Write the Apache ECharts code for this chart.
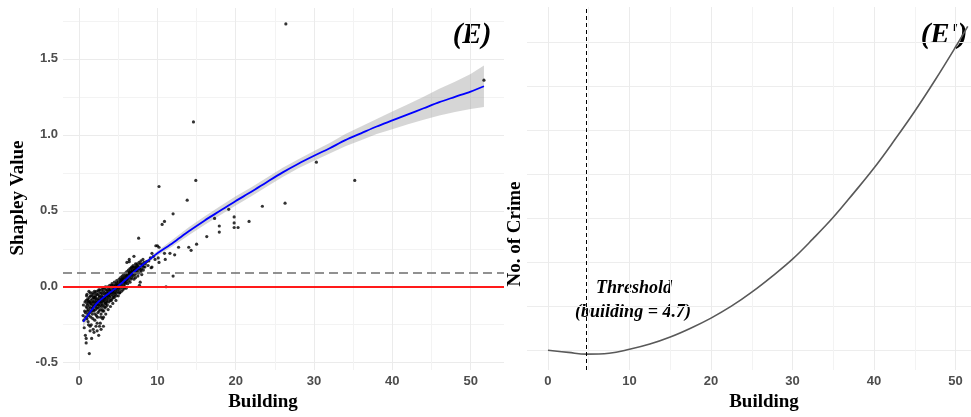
<!DOCTYPE html>
<html>
<head>
<meta charset="utf-8">
<script src="https://cdn.jsdelivr.net/npm/echarts@6/dist/echarts.min.js"></script>
<style>
  html, body { margin: 0; padding: 0; background: #fff; }
  #chart { width: 971px; height: 417px; }
</style>
</head>
<body>
<div id="chart"></div>
<script>
// Panel (E): Shapley value of the building variable, one point per observation [building, shapley]
const pointsE = [
  [0.5,-0.19],[0.6,-0.22],[0.7,-0.16],[0.8,-0.17],[0.8,-0.32],[0.9,-0.09],[0.9,-0.34],[0.9,-0.13],
  [1.0,-0.05],[1.0,-0.11],[1.0,-0.14],[1.0,-0.21],[1.1,-0.08],[1.1,-0.12],[1.1,-0.18],[1.2,-0.25],
  [1.2,-0.10],[1.2,-0.15],[1.3,-0.44],[1.3,-0.07],[1.3,-0.13],[1.4,-0.29],[1.4,-0.26],[1.4,-0.04],
  [1.4,-0.11],[1.5,-0.16],[1.5,-0.09],[1.5,-0.20],[0.9,-0.37],
  [1.6,-0.34],[1.6,-0.06],[1.6,-0.12],[1.7,-0.14],[1.7,-0.08],[1.7,-0.18],[1.8,-0.28],[1.8,-0.05],
  [1.8,-0.10],[1.8,-0.13],[1.9,-0.30],[1.9,-0.07],[1.9,-0.16],[2.0,-0.04],[2.0,-0.09],[2.0,-0.11],
  [2.0,-0.22],[2.1,-0.06],[2.1,-0.13],[2.1,-0.15],[2.2,-0.03],[2.2,-0.08],[2.2,-0.19],[2.3,-0.29],
  [2.3,-0.24],[2.3,-0.10],[2.3,-0.12],[2.4,-0.05],[2.4,-0.14],[2.4,-0.17],[2.5,-0.32],[2.5,-0.02],
  [2.5,-0.09],[2.5,-0.11],
  [2.6,-0.26],[2.6,-0.07],[2.6,-0.13],[2.7,-0.24],[2.7,-0.04],[2.7,-0.10],[2.7,-0.15],[2.8,-0.28],
  [2.8,-0.18],[2.8,-0.06],[2.8,-0.08],[2.9,-0.02],[2.9,-0.11],[2.9,-0.13],[3.0,-0.05],[3.0,-0.09],
  [3.0,-0.16],[3.0,-0.21],[3.1,-0.26],[3.1,-0.20],[3.1,-0.03],[3.1,-0.07],[3.2,-0.13],[3.2,-0.01],
  [3.2,-0.10],[3.3,-0.05],[3.3,-0.08],[3.3,-0.14],[3.4,-0.02],[3.4,-0.11],[3.4,-0.18],[3.5,-0.04],
  [3.5,-0.07],[3.5,-0.09],
  [3.6,0.00],[3.6,-0.06],[3.6,-0.12],[3.7,-0.03],[3.7,-0.08],[3.7,-0.15],[3.8,-0.01],[3.8,-0.05],
  [3.8,-0.10],[3.9,0.01],[3.9,-0.04],[3.9,-0.07],[4.0,-0.02],[4.0,-0.06],[4.0,-0.13],[4.1,0.00],
  [4.1,-0.03],[4.1,-0.09],[4.2,0.02],[4.2,-0.05],[4.2,-0.08],[4.3,-0.01],[4.3,-0.04],[4.3,-0.11],
  [4.4,0.01],[4.4,-0.02],[4.4,-0.06],[4.5,0.03],[4.5,-0.03],[4.5,-0.07],
  [4.6,0.00],[4.6,-0.05],[4.7,0.02],[4.7,-0.02],[4.7,-0.09],[4.8,0.04],[4.8,-0.01],[4.8,-0.04],
  [4.9,0.01],[4.9,-0.03],[5.0,0.03],[5.0,0.00],[5.0,-0.06],[5.1,0.05],[5.1,-0.02],[5.2,0.02],
  [5.2,-0.04],[5.3,0.06],[5.3,0.01],[5.3,-0.01],[5.4,0.04],[5.4,-0.03],[5.5,0.07],[5.5,0.02],[5.5,0.00],
  [5.6,0.05],[5.6,-0.02],[5.7,0.08],[5.7,0.03],[5.7,0.01],[5.8,0.06],[5.8,0.00],[5.9,0.09],
  [5.9,0.04],[5.9,0.02],[6.0,0.07],[6.0,0.03],[6.0,-0.01],[6.1,0.16],[6.1,0.05],[6.1,0.10],
  [6.2,0.08],[6.2,0.02],[6.3,0.11],[6.3,0.06],[6.3,0.04],[6.4,0.18],[6.4,0.165],[6.4,0.09],
  [6.5,0.07],[6.5,0.12],[6.5,0.03],
  [6.6,0.10],[6.6,0.05],[6.7,0.13],[6.7,0.08],[6.7,0.06],[6.8,0.11],[6.8,0.09],[6.9,0.14],
  [6.9,0.07],[7.0,0.20],[7.0,0.12],[7.0,0.10],[7.0,0.05],[7.1,0.08],[7.1,0.13],[7.2,0.15],
  [7.2,0.11],[7.2,0.06],[7.3,0.09],[7.3,0.12],[7.4,0.15],[7.4,0.10],[7.5,0.14],[7.5,0.07],[7.5,0.11],
  [7.6,0.32],[7.6,0.13],[7.6,0.09],[7.7,0.01],[7.7,0.12],[7.8,0.03],[7.8,0.15],[7.9,0.10],
  [7.9,0.17],[8.0,0.12],[8.0,0.08],[8.1,0.14],[8.2,0.11],[8.3,0.16],[8.4,0.13],[8.6,0.165],
  [8.8,0.14],[9.1,0.19],[9.2,0.125],[9.3,0.22],[9.3,0.13],[9.7,0.18],[9.8,0.27],[10.0,0.27],
  [10.1,0.19],[10.2,0.16],[10.2,0.26],
  [0.55,-0.12],[0.65,-0.27],[0.75,-0.10],[0.85,-0.20],[0.95,-0.06],[1.05,-0.16],[1.15,-0.23],[1.15,-0.09],
  [1.25,-0.19],[1.25,-0.03],[1.35,-0.17],[1.35,-0.10],[1.45,-0.14],[1.45,-0.06],[1.55,-0.25],[1.55,-0.11],
  [1.65,-0.04],[1.65,-0.16],[1.75,-0.21],[1.75,-0.10],[1.85,-0.07],[1.85,-0.15],[1.95,-0.12],[1.95,-0.03],
  [2.05,-0.18],[2.05,-0.07],[2.15,-0.10],[2.15,-0.26],[2.25,-0.05],[2.25,-0.14],[2.35,-0.08],[2.35,-0.20],
  [2.45,-0.03],[2.45,-0.12],[2.55,-0.06],[2.55,-0.16],[2.65,-0.09],[2.65,-0.02],[2.75,-0.12],[2.75,-0.20],
  [2.85,-0.04],[2.85,-0.10],[2.95,-0.07],[2.95,-0.15],[3.05,-0.01],[3.05,-0.12],[3.15,-0.09],[3.15,-0.16],
  [3.25,-0.04],[3.25,-0.07],[3.35,-0.11],[3.35,0.00],[3.45,-0.06],[3.45,-0.13],[3.55,-0.02],[3.55,-0.10],
  [3.65,-0.04],[3.75,-0.06],[3.85,-0.02],[3.95,-0.09],[4.05,-0.04],[4.15,0.01],[4.25,-0.03],[4.35,-0.07],
  [4.45,0.00],[4.55,-0.04],[4.65,0.01],[4.75,-0.06],[4.85,0.02],[4.95,-0.01],[5.05,0.01],[5.15,-0.04],
  [5.25,0.04],[5.35,0.03],[5.45,0.05],[5.55,0.04],[5.65,0.06],[5.75,-0.01],[5.85,0.03],[5.95,0.07],
  [6.05,0.05],[6.15,0.08],[6.25,0.06],[6.35,0.09],[6.45,0.10],[6.55,0.08],[6.65,0.12],[6.75,0.10],
  [6.85,0.13],[6.95,0.09],[7.05,0.11],[7.15,0.10],[7.25,0.13],[7.35,0.14],[7.45,0.12],[7.65,0.16],
  [7.85,0.11],[8.05,0.15],[8.25,0.13],[8.45,0.15],[8.15,0.18],[8.9,0.17],[9.5,0.20],
  [10.2,0.66],[10.6,0.41],[10.9,0.43],[10.9,0.22],[11.0,0.18],[11.1,0.00],[11.6,0.22],[12.0,0.48],
  [12.0,0.07],[12.2,0.21],[12.7,0.26],[13.8,0.57],[14.0,0.26],[14.3,0.24],[14.6,1.085],[14.9,0.70],
  [15.0,0.28],[16.3,0.33],[17.3,0.45],[17.9,0.40],[17.9,0.36],[19.1,0.51],[19.8,0.46],[19.8,0.42],
  [19.8,0.39],[20.3,0.39],[21.7,0.43],[23.4,0.53],[26.3,0.55],[26.4,1.73],[30.3,0.82],[35.2,0.70],
  [51.7,1.36]
];

// Smoothed fit and its confidence band
const fitX     = [0.5, 1, 1.5, 2, 2.5, 3, 4, 5, 6, 7, 8, 9, 10, 12, 14, 16, 18, 20, 22, 24, 26, 28, 30, 32, 34, 36, 38, 40, 42, 44, 46, 48, 50, 51.7];
const fitY     = [-0.23, -0.195, -0.16, -0.125, -0.097, -0.075, -0.035, 0.005, 0.05, 0.097, 0.14, 0.18, 0.22, 0.29, 0.365, 0.435, 0.50, 0.565, 0.625, 0.69, 0.753, 0.81, 0.862, 0.912, 0.965, 1.01, 1.055, 1.095, 1.135, 1.175, 1.215, 1.25, 1.285, 1.32];
const fitLower = [-0.265, -0.223, -0.182, -0.142, -0.111, -0.087, -0.045, -0.005, 0.04, 0.087, 0.128, 0.166, 0.204, 0.268, 0.339, 0.407, 0.47, 0.535, 0.595, 0.66, 0.723, 0.78, 0.83, 0.877, 0.925, 0.965, 1.005, 1.037, 1.069, 1.099, 1.127, 1.15, 1.17, 1.183];
const fitUpper = [-0.195, -0.167, -0.138, -0.108, -0.083, -0.063, -0.025, 0.015, 0.06, 0.107, 0.152, 0.194, 0.236, 0.312, 0.391, 0.463, 0.53, 0.595, 0.655, 0.72, 0.783, 0.84, 0.894, 0.947, 1.005, 1.055, 1.105, 1.153, 1.201, 1.251, 1.303, 1.35, 1.4, 1.457];

// Reference lines in panel (E)
const zeroLevel = 0;
const dashedLevel = 0.09;

// Panel (E'): response curve of crime count against building
const curveX = [0, 2.5, 4.7, 7.5, 10, 12.5, 15, 17.5, 20, 22.5, 25, 27.5, 30, 32.5, 35, 37.5, 40, 42.5, 45, 47.5, 50, 51.5];
const curveY = [0, -0.05, -0.09, -0.07, 0.02, 0.14, 0.30, 0.50, 0.73, 1.00, 1.32, 1.68, 2.07, 2.53, 3.02, 3.57, 4.14, 4.77, 5.43, 6.14, 6.89, 7.36];
const thresholdBuilding = 4.7;

// Ticks and grid lines
const xLabelTicks = [0, 10, 20, 30, 40, 50];
const xGridTicks  = [0, 5, 10, 15, 20, 25, 30, 35, 40, 45, 50];
const yLabelTicksE = [-0.5, 0, 0.5, 1.0, 1.5];
const yGridTicksE  = [-0.5, -0.25, 0, 0.25, 0.5, 0.75, 1.0, 1.25, 1.5, 1.75];
const yGridTicksE2 = [0, 1, 2, 3, 4, 5, 6, 7];

const TICK_FONT = { color: '#4d4d4d', fontFamily: 'Liberation Sans, Arial, sans-serif', fontWeight: 'bold', fontSize: 13 };
const SERIF = '"Liberation Serif", "Times New Roman", serif';
const GRID_COLORS = ['#ebebeb', '#f3f3f3'];

function valueAxis(gridIndex, min, max, gridTicks, labelTicks, extra) {
  return Object.assign({
    type: 'value', gridIndex, min, max,
    axisLine: { show: false },
    axisTick: { show: false, customValues: gridTicks },
    axisLabel: labelTicks
      ? Object.assign({ customValues: labelTicks, margin: 5 }, TICK_FONT)
      : { show: false },
    splitLine: { show: true, lineStyle: { color: GRID_COLORS, width: 1 } },
    minorSplitLine: { show: false }
  }, extra || {});
}

const chart = echarts.init(document.getElementById('chart'), null, { renderer: 'canvas' });

const bandRows = fitX.map((x, i) => [x, fitLower[i], fitUpper[i]]);

const option = {
  animation: false,
  backgroundColor: '#fff',
  grid: [
    { left: 63, top: 8, width: 441, height: 362 },
    { left: 527, top: 7, width: 444, height: 363 }
  ],
  xAxis: [
    valueAxis(0, -2.06, 54.26, xGridTicks, xLabelTicks, {
      axisLabel: Object.assign({ customValues: xLabelTicks, margin: 5 }, TICK_FONT)
    }),
    valueAxis(1, -2.575, 51.9, xGridTicks, xLabelTicks, {
      axisLabel: Object.assign({ customValues: xLabelTicks, margin: 5 }, TICK_FONT)
    })
  ],
  yAxis: [
    valueAxis(0, -0.548, 1.835, yGridTicksE, yLabelTicksE, {
      axisLabel: Object.assign({
        customValues: yLabelTicksE, margin: 5,
        formatter: v => v.toFixed(1)
      }, TICK_FONT)
    }),
    valueAxis(1, -0.45, 7.8, yGridTicksE2, null, {
      splitLine: { show: true, lineStyle: { color: '#ededed', width: 1 } }
    })
  ],
  series: [
    {
      name: 'band',
      type: 'custom',
      xAxisIndex: 0, yAxisIndex: 0,
      data: bandRows,
      encode: { x: 0, y: [1, 2] },
      silent: true,
      z: 1,
      renderItem: function (params, api) {
        if (params.dataIndex !== 0) return null;
        const pts = [];
        for (let i = 0; i < bandRows.length; i++) pts.push(api.coord([bandRows[i][0], bandRows[i][2]]));
        for (let i = bandRows.length - 1; i >= 0; i--) pts.push(api.coord([bandRows[i][0], bandRows[i][1]]));
        return { type: 'polygon', shape: { points: pts }, style: { fill: 'rgba(153,153,153,0.4)' } };
      }
    },
    {
      name: 'points',
      type: 'scatter',
      xAxisIndex: 0, yAxisIndex: 0,
      data: pointsE,
      symbolSize: 3.2,
      itemStyle: { color: '#000' },
      silent: true,
      z: 2
    },
    {
      name: 'fit',
      type: 'line',
      xAxisIndex: 0, yAxisIndex: 0,
      data: fitX.map((x, i) => [x, fitY[i]]),
      smooth: 0.3,
      showSymbol: false,
      symbol: 'none',
      lineStyle: { color: '#0000ff', width: 1.8 },
      silent: true,
      z: 3,
      markLine: {
        silent: true,
        symbol: ['none', 'none'],
        label: { show: false },
        data: [
          { yAxis: dashedLevel, lineStyle: { color: '#6e6e6e', width: 1.5, type: [9, 5] } },
          { yAxis: zeroLevel, lineStyle: { color: '#ff1a1a', width: 2, type: 'solid' } }
        ]
      }
    },
    {
      name: 'curve',
      type: 'line',
      xAxisIndex: 1, yAxisIndex: 1,
      data: curveX.map((x, i) => [x, curveY[i]]),
      smooth: 0.4,
      showSymbol: false,
      symbol: 'none',
      lineStyle: { color: '#595959', width: 1.6 },
      silent: true,
      z: 3,
      markLine: {
        silent: true,
        symbol: ['none', 'none'],
        label: { show: false },
        data: [
          { xAxis: thresholdBuilding, lineStyle: { color: '#000', width: 1, type: [4, 3] } }
        ]
      }
    }
  ],
  graphic: [
    { type: 'text', x: 18, y: 198, rotation: Math.PI / 2,
      style: { text: 'Shapley Value', font: 'bold 19px ' + SERIF, fill: '#000', align: 'center', verticalAlign: 'middle', textAlign: 'center', textVerticalAlign: 'middle' } },
    { type: 'text', x: 263, y: 402,
      style: { text: 'Building', font: 'bold 19px ' + SERIF, fill: '#000', align: 'center', verticalAlign: 'middle', textAlign: 'center', textVerticalAlign: 'middle' } },
    { type: 'text', x: 515, y: 234, rotation: Math.PI / 2,
      style: { text: 'No. of Crime', font: 'bold 19px ' + SERIF, fill: '#000', align: 'center', verticalAlign: 'middle', textAlign: 'center', textVerticalAlign: 'middle' } },
    { type: 'text', x: 764, y: 402,
      style: { text: 'Building', font: 'bold 19px ' + SERIF, fill: '#000', align: 'center', verticalAlign: 'middle', textAlign: 'center', textVerticalAlign: 'middle' } },
    { type: 'text', x: 472, y: 36,
      style: { text: '(E)', font: 'italic bold 29px ' + SERIF, fill: '#000', align: 'center', verticalAlign: 'middle', textAlign: 'center', textVerticalAlign: 'middle' } },
    { type: 'text', x: 944, y: 36,
      style: { text: "(E')", font: 'italic bold 29px ' + SERIF, fill: '#000', align: 'center', verticalAlign: 'middle', textAlign: 'center', textVerticalAlign: 'middle' } },
    { type: 'text', x: 634, y: 288,
      style: { text: 'Threshold', font: 'italic bold 18px ' + SERIF, fill: '#000', align: 'center', verticalAlign: 'middle', textAlign: 'center', textVerticalAlign: 'middle' } },
    { type: 'text', x: 633, y: 312,
      style: { text: '(building = 4.7)', font: 'italic bold 18px ' + SERIF, fill: '#000', align: 'center', verticalAlign: 'middle', textAlign: 'center', textVerticalAlign: 'middle' } }
  ]
};

chart.setOption(option);
</script>
</body>
</html>
